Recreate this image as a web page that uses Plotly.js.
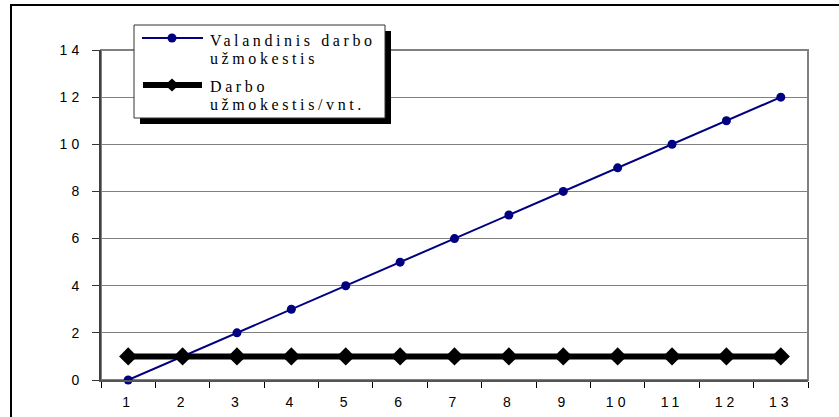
<!DOCTYPE html>
<html>
<head>
<meta charset="utf-8">
<script src="https://cdn.plot.ly/plotly-3.0.1.min.js"></script>
<style>
  html, body { margin: 0; padding: 0; background: #fff; overflow: hidden; }
  #wrap { position: relative; width: 839px; height: 417px; }
  #chart { width: 839px; height: 417px; }
  /* outer chart frame, open to the right and bottom */
  #frame {
    position: absolute; left: 10px; top: 4px; right: 0; bottom: 0;
    border-left: 2px solid #000; border-top: 2px solid #000;
    pointer-events: none;
  }
  .xtick text, .ytick text { letter-spacing: 4px; }
  .annotation-text { letter-spacing: 3.6px; }
</style>
</head>
<body>
<div id="wrap">
  <div id="chart"></div>
  <div id="frame"></div>
</div>
<script>
// Categories along the horizontal axis
const CATEGORIES = ['1', '2', '3', '4', '5', '6', '7', '8', '9', '10', '11', '12', '13'];
// Hourly wage series
const HOURLY_WAGE = [0, 1, 2, 3, 4, 5, 6, 7, 8, 9, 10, 11, 12];
// Piece-rate wage series
const PIECE_WAGE = [1, 1, 1, 1, 1, 1, 1, 1, 1, 1, 1, 1, 1];
// Series names
const SERIES_NAMES = ['Valandinis darbo užmokestis', 'Darbo užmokestis/vnt.'];
const LEGEND_LINES = [['Valandinis darbo', 'užmokestis'], ['Darbo', 'užmokestis/vnt.']];

const NAVY = '#000080';
const BLACK = '#000000';

// plot-area geometry (pixels) used to place decoration in paper units
const W = 839, H = 417;
const M = { l: 101, r: 31, t: 50, b: 37 };
const PW = W - M.l - M.r, PH = H - M.t - M.b;
const px = x => (x - M.l) / PW;
const py = y => (H - M.b - y) / PH;

const traces = [
  {
    type: 'scatter', mode: 'lines+markers', name: SERIES_NAMES[0],
    x: CATEGORIES, y: HOURLY_WAGE,
    line: { color: NAVY, width: 2 },
    marker: { symbol: 'circle', size: 9, color: NAVY },
    showlegend: false, cliponaxis: false
  },
  {
    type: 'scatter', mode: 'lines+markers', name: SERIES_NAMES[1],
    x: CATEGORIES, y: PIECE_WAGE,
    line: { color: BLACK, width: 6 },
    marker: { symbol: 'diamond', size: 14, color: BLACK },
    showlegend: false, cliponaxis: false
  }
];

const shapes = [
  // plot-area frame
  { type: 'rect', xref: 'paper', yref: 'paper', layer: 'below',
    x0: 0, x1: 1, y0: 0, y1: 1,
    line: { color: '#808080', width: 2 } },
  // legend shadow
  { type: 'rect', xref: 'paper', yref: 'paper', layer: 'above',
    x0: px(140), x1: px(391), y0: py(124), y1: py(31),
    fillcolor: '#000', line: { width: 0 } },
  // legend panel
  { type: 'rect', xref: 'paper', yref: 'paper', layer: 'above',
    x0: px(134), x1: px(385), y0: py(118), y1: py(25),
    fillcolor: '#fff', line: { color: '#333', width: 1 } },
  // legend sample: hourly wage
  { type: 'line', xref: 'paper', yref: 'paper', layer: 'above',
    x0: px(142), x1: px(203), y0: py(38), y1: py(38),
    line: { color: NAVY, width: 2 } },
  { type: 'circle', xref: 'paper', yref: 'paper', layer: 'above',
    x0: px(167.5), x1: px(176.5), y0: py(42.5), y1: py(33.5),
    fillcolor: NAVY, line: { color: NAVY, width: 0 } },
  // legend sample: piece-rate wage
  { type: 'line', xref: 'paper', yref: 'paper', layer: 'above',
    x0: px(143), x1: px(202), y0: py(85), y1: py(85),
    line: { color: BLACK, width: 6 } },
  { type: 'path', xref: 'paper', yref: 'paper', layer: 'above',
    path: `M${px(165)},${py(85)} L${px(172)},${py(78.5)} L${px(179)},${py(85)} L${px(172)},${py(91.5)} Z`,
    fillcolor: BLACK, line: { color: BLACK, width: 0 } }
];

const legendFont = { family: '"Liberation Serif", "Times New Roman", serif', size: 16, color: '#000' };
const textRows = [41, 58.5, 87, 104.5];
const flatLines = LEGEND_LINES[0].concat(LEGEND_LINES[1]);
const annotations = flatLines.map((t, i) => ({
  xref: 'paper', yref: 'paper', x: px(209), y: py(textRows[i]),
  xanchor: 'left', yanchor: 'middle', showarrow: false,
  text: t, font: legendFont, borderpad: 0
}));

const tickFont = { family: '"Liberation Sans", Arial, sans-serif', size: 14, color: '#000' };

const layout = {
  width: W, height: H,
  margin: M,
  paper_bgcolor: '#fff', plot_bgcolor: '#fff',
  showlegend: false,
  xaxis: {
    type: 'category', tickson: 'boundaries',
    range: [-0.5, CATEGORIES.length - 0.5],
    ticks: 'outside', ticklen: 6, tickwidth: 1, tickcolor: '#000',
    showgrid: false, zeroline: false,
    showline: true, linecolor: '#555', linewidth: 2,
    tickfont: tickFont, ticklabelstandoff: 8
  },
  yaxis: {
    range: [0, 14], dtick: 2, tick0: 0,
    ticks: 'outside', ticklen: 7, tickwidth: 1, tickcolor: '#333',
    showgrid: true, gridcolor: '#808080', gridwidth: 1,
    zeroline: false,
    showline: true, linecolor: '#404040', linewidth: 2,
    tickfont: tickFont, ticklabelstandoff: 6
  },
  shapes: shapes,
  annotations: annotations
};

Plotly.newPlot('chart', traces, layout, { displayModeBar: false, staticPlot: true });
</script>
</body>
</html>
